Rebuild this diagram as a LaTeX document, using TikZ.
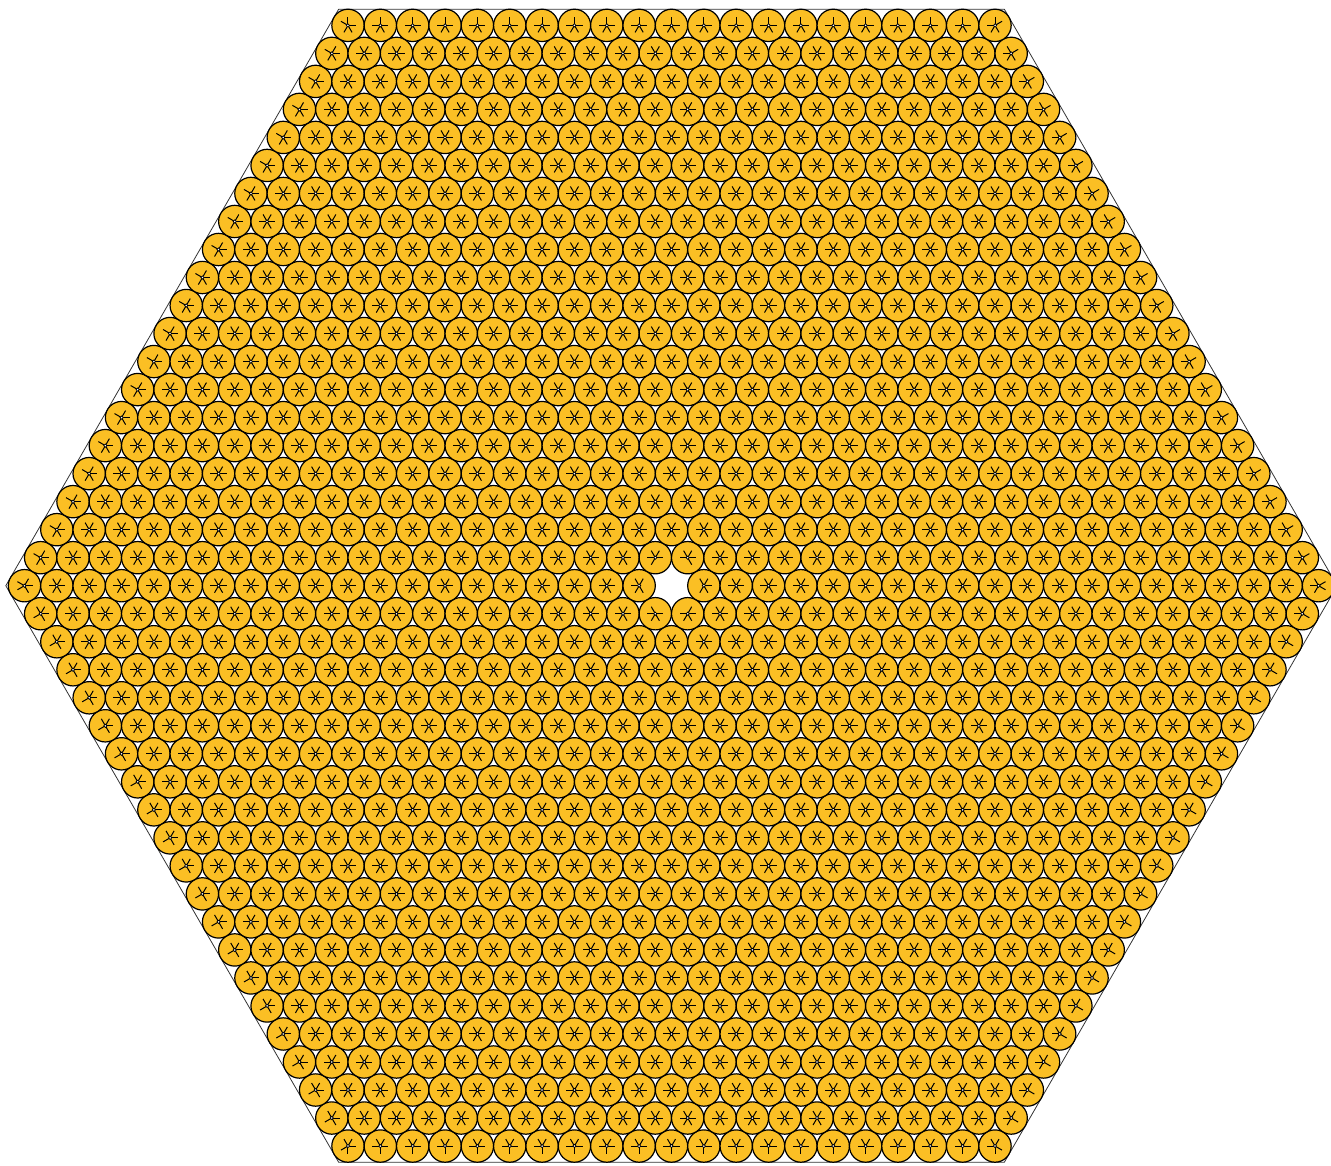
\documentclass[tikz,border=0pt]{standalone}
\definecolor{diskfill}{RGB}{251,191,36}
\newif\ifhexin
\newcount\hxA \newcount\hxB
\def\hexinside#1#2{%
  \hxA=\numexpr#1\relax \hxB=\numexpr#2\relax
  \hexintrue
  \ifnum\hxA=0 \ifnum\hxB=0 \hexinfalse\fi\fi
  \ifnum\hxA<0 \hxA=-\hxA\fi
  \ifnum\hxB<0 \hxB=-\hxB\fi
  \ifnum\hxB>20 \hexinfalse\fi
  \advance\hxA by \hxB
  \ifnum\hxA>40 \hexinfalse\fi
}
\tikzset{
  hexline/.style={draw=black!80, line width=0.4pt},
  disk/.style={fill=diskfill, draw=black, line width=0.6pt},
  spoke/.style={draw=black, line width=0.5pt},
  centerdot/.style={fill=white, draw=black, line width=0.35pt}
}
\begin{document}
\begin{tikzpicture}[x=16.175pt,y=16.175pt]
\useasboundingbox (-20.757,-17.907) rectangle (20.386,18.105);
\draw[hexline] (0:20.5774) -- (60:20.5774) -- (120:20.5774) -- (180:20.5774) -- (240:20.5774) -- (300:20.5774) -- cycle;
\foreach \r in {-20,...,20}{
 \foreach \X in {-40,...,40}{
  \ifodd\numexpr\X+\r\relax\else
   \hexinside{\X}{\r}%
   \ifhexin
     \coordinate (c) at (\X/2,\r*0.8660254);
     \path[disk] (c) circle (0.5);
     \foreach \dx/\dr/\ang in {2/0/0, 1/1/60, -1/1/120, -2/0/180, -1/-1/240, 1/-1/300}{
        \hexinside{\X+\dx}{\r+\dr}%
        \ifhexin \draw[spoke] (c) -- ++(\ang:0.25);\fi
     }
     \ifnum\r=20 \draw[spoke] (c) -- ++(90:0.25);\fi
     \ifnum\r=-20 \draw[spoke] (c) -- ++(270:0.25);\fi
     \ifnum\numexpr\X+\r\relax=40 \draw[spoke] (c) -- ++(30:0.25);\fi
     \ifnum\numexpr\r-\X\relax=40 \draw[spoke] (c) -- ++(150:0.25);\fi
     \ifnum\numexpr-\X-\r\relax=40 \draw[spoke] (c) -- ++(210:0.25);\fi
     \ifnum\numexpr\X-\r\relax=40 \draw[spoke] (c) -- ++(330:0.25);\fi
     \path[centerdot] (c) circle (0.05);
   \fi
  \fi
 }
}
\end{tikzpicture}
\end{document}
